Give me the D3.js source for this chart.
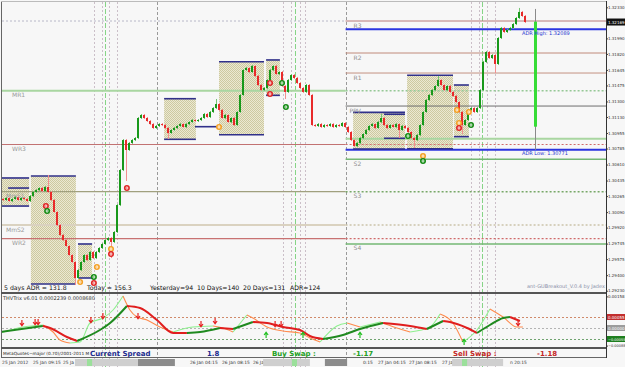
<!DOCTYPE html>
<html>
<head>
<meta charset="utf-8">
<script src="https://cdn.jsdelivr.net/npm/d3@7/dist/d3.min.js"></script>
<style>
  body { margin: 0; background: #f7f7f7; }
  svg { display: block; }
  text { font-family: "DejaVu Sans", sans-serif; }
</style>
</head>
<body>
<div id="chart"></div>
<script>
// ---- values (M15 candles, index = bar number) ----
const firstOpen = 1.30233;
const closes = [
  1.30222, 1.30244, 1.30211, 1.30233, 1.30255, 1.30222, 1.30244, 1.30233, 1.30211, 1.30266,
  1.30310, 1.30331, 1.30353, 1.30320, 1.30364, 1.30310, 1.30222, 1.30091, 1.29948, 1.29839,
  1.29784, 1.29719, 1.29620, 1.29544, 1.29369, 1.29456, 1.29544, 1.29620, 1.29566, 1.29653,
  1.29587, 1.29653, 1.29697, 1.29741, 1.29784, 1.29806, 1.29763, 1.29872, 1.30167, 1.30550,
  1.30878, 1.30769, 1.30846, 1.30878, 1.30900, 1.31119, 1.31152, 1.31119, 1.31086, 1.31053,
  1.31010, 1.31032, 1.31053, 1.31042, 1.31010, 1.30955, 1.30988, 1.31010, 1.31032, 1.31053,
  1.31021, 1.31053, 1.31075, 1.31097, 1.31086, 1.31097, 1.31119, 1.31163, 1.31130, 1.31185,
  1.31228, 1.31272, 1.31207, 1.31119, 1.31152, 1.31075, 1.31119, 1.31042, 1.31185, 1.31371,
  1.31644, 1.31666, 1.31622, 1.31688, 1.31579, 1.31480, 1.31425, 1.31447, 1.31535, 1.31644,
  1.31688, 1.31600, 1.31622, 1.31469, 1.31404, 1.31535, 1.31589, 1.31557, 1.31502, 1.31447,
  1.31404, 1.31480, 1.31371, 1.31042, 1.31032, 1.31053, 1.31021, 1.31042, 1.31032, 1.31053,
  1.31021, 1.31042, 1.31032, 1.31064, 1.31021, 1.30966, 1.30878, 1.30813, 1.30846, 1.30900,
  1.30944, 1.30988, 1.31032, 1.31053, 1.31010, 1.31075, 1.31119, 1.31042, 1.31010, 1.31042,
  1.31021, 1.31053, 1.30988, 1.31032, 1.31010, 1.30966, 1.30900, 1.30878, 1.30933, 1.31042,
  1.31185, 1.31316, 1.31371, 1.31425, 1.31469, 1.31535, 1.31480, 1.31425, 1.31469, 1.31404,
  1.31360, 1.31294, 1.31185, 1.31042, 1.31097, 1.31207, 1.31228, 1.31185, 1.31228, 1.31425,
  1.31732, 1.31841, 1.31775, 1.31808, 1.31710, 1.31994, 1.32104, 1.32060, 1.32082, 1.32104,
  1.32147, 1.32213, 1.32279, 1.32235, 1.32169
];
// long wicks
const spikeIdx = [15, 24, 36, 41, 55, 71, 94, 126, 132, 137, 145, 153, 164, 172];
const spikePrice = [1.30485, 1.29303, 1.29598, 1.30441, 1.30900, 1.31316, 1.31338, 1.31152, 1.30911, 1.30802, 1.31568, 1.30955, 1.31622, 1.32312];

const priceTicks = [1.32330, 1.31990, 1.31820, 1.31645, 1.31475, 1.31300, 1.31130, 1.30955, 1.30785,
  1.30610, 1.30435, 1.30265, 1.30090, 1.29920, 1.29745, 1.29575, 1.29400, 1.29230];

// breakout boxes
const boxStart = [-0.5, 9.3, 25, 53.7, 72, 87.7, 116.7, 134.7, 150.3];
const boxEnd = [8.7, 24.3, 29.7, 64.3, 87, 92.3, 134, 150, 155.3];
const boxTop = [1.30463, 1.30485, 1.29741, 1.31330, 1.31735, 1.31754, 1.31181, 1.31586, 1.31480];
const boxBottom = [1.30156, 1.29303, 1.29369, 1.30886, 1.30936, 1.31367, 1.30780, 1.30783, 1.30915];
const segStart = [1.7, 64, 127, 127];
const segEnd = [8.7, 71.3, 134, 134];
const segPrice = [1.30353, 1.31024, 1.31160, 1.30897];

// pivot levels: previous days (left) and today (right)
const pivotDayIdx = 114.2;
const leftLevelNames = ['', 'MR1', 'WR3', 'MmS1', 'MmS2', 'WR2'];
const leftLevelPrices = [1.32180, 1.31418, 1.30829, 1.30313, 1.29948, 1.29799];
const rightLevelNames = ['R3', 'R2', 'R1', 'MR1', 'PPV', 'S1', 'WR3', 'S2', 'S3', 'MmS2', 'WR2', 'S4'];
const rightLevelPrices = [1.32180, 1.31830, 1.31611, 1.31418, 1.31250, 1.30893, 1.30829, 1.30667, 1.30313, 1.29948, 1.29799, 1.29741];
const adrHigh = 1.32089;
const adrLow = 1.30771;
const adrBarIdx = 177.3;
const todayHigh = 1.32312;
const adrBarTop = 1.32173;
const adrBarBottom = 1.31024;

// signal dots
const dotIdx = [72, 89, 89, 93, 94.3, 135, 151.3, 152, 152, 155.3, 156, 14.3, 14.7, 41.3, 31.3, 30.3, 30.3, 25.7, 36, 36, 140, 140];
const dotPrice = [1.31021, 1.31502, 1.31382, 1.31502, 1.31239, 1.30922, 1.31207, 1.31064, 1.31010, 1.31185, 1.31042,
  1.30156, 1.30102, 1.30353, 1.29489, 1.29380, 1.29314, 1.29325, 1.29686, 1.29631, 1.30703, 1.30649];
const dotKind = ['o', 'r', 'r', 'g', 'g', 'g', 'o', 'o', 'r', 'o', 'g', 'r', 'g', 'r', 'o', 'g', 'r', 'o', 'o', 'r', 'o', 'g'];

// vertical session lines
const vLineIdx = [30.3, 32.9, 34, 35.2, 37.9, 51.2, 93.2, 95.9, 97.3, 99, 100.7, 114.2, 155.9, 158.6, 159.7, 161.2, 164];
const vLineKind = ['dot', 'dot', 'green', 'dot', 'dot', 'day', 'dot', 'dot', 'green', 'dot', 'dot', 'day', 'dot', 'dot', 'green', 'dot', 'dot'];

const adrStats = ['5 days ADR = 131.8', 'Today = 156.3', 'Yesterday=94', '10 Days=140', '20 Days=131', 'ADR=124'];

// THV Trix indicator
const trixIdx = [-1, 13.3, 15.7, 21.3, 24.7, 32.3, 35.7, 41.3, 45.7, 51.3, 56.7, 61.3, 65.7, 72.3, 76.7, 83.3, 88, 93.3, 99, 102.3,
  106.7, 113.3, 119, 126.7, 135.7, 141.3, 146.7, 149, 154.7, 158, 162.3, 166.7, 169, 172.3];
const trixVal = [-0.0002, 0.0001, 0, -0.00045, -0.00065, -0.0001, 0.00025, 0.0011, 0.001, 0.0004, -0.00025, -0.00025, -0.0002, 0, -0.00005,
  0.0003, 0.00025, 0.00005, -0.0001, -0.0004, -0.00055, -0.00035, -0.00005, 0.00025, 0.0001, -0.00005, 0.00035, 0.0003, 0, -0.00025,
  0.00015, 0.0005, 0.00055, 0.00035];
const sigIdx = [-1, 6.7, 13.3, 16.7, 19, 22.3, 25.7, 29, 33.3, 36.7, 40, 42.3, 44.7, 48, 52.3, 56.7, 63.3, 70, 73.3, 76.7, 81.3,
  83.3, 88, 93.3, 99, 102.3, 105.7, 111.3, 114.7, 119, 125.7, 131.3, 135.7, 142.3, 145.7, 150, 153.3, 158, 162.3, 166.7, 171.3, 173.3];
const sigVal = [-0.00025, 0.00005, 0.00015, -0.0002, -0.0006, -0.00075, -0.0007, 0.00025, 0.0005, 0.0009, 0.0016, 0.0009, 0.00055,
  0.0004, 0.00005, -0.0002, 0.00005, 0.0001, 0, -0.0002, 0.00065, 0.0005, 0.00005, -0.00015, -0.00025, -0.0005, -0.0007, 0.0001,
  0.00025, 0.00005, 0.0003, 0, -0.0002, 0.00005, 0.0007, 0.00025, -0.0007, -0.0001, 0.00095, 0.00055, 0.00005, 0.00005];
const downArrows = [[6.3, 0.00025], [10.7, 0.0003], [11.7, 0.0003], [29.3, 0.0004], [33.3, 0.0006], [45, 0.0006], [66, 0.0002],
  [70.7, 0.00035], [90.7, 0.0002], [92.7, 0.0002], [171.7, 0.00025]];
const upArrows = [[87.7, -0.00035], [100, -0.00035], [119, -0.00035], [153.7, -0.0007]];
const indLevels = [0.00055, 0, -0.00055];
const indTicks = [0.00158, -0.00088];

// time axis
const timeLabelIdx = [-0.3, 10, 20, 62.3, 73, 83.3, 120, 125, 135.3, 146.3, 169];
const timeLabels = ['25 Jan 2012', '25 Jan 09:15', '25 Ja', '26 Jan 04:15', '26 Jan 08:15', '26 Ja', '0:15', '27 Jan 04:15', '27 Jan 08:15', '27 Ja', 'n 20:15'];
const tBarStart = [24, 86.7, 149.7, 45, 107.3];
const tBarEnd = [51.3, 102.3, 166.7, 57.3, 114.7];
const tBarKind = ['light', 'light', 'light', 'dark', 'dark'];
const tMarkStart = [28, 96.3, 153];
const tMarkEnd = [29.7, 98, 154.7];

const swapLabels = ['Current Spread', '1.8', 'Buy Swap :', '-1.17', 'Sell Swap :', '-1.18'];

// ---- drawing ----
const W = 625, H = 367;
const plot = { left: 2, right: 606, top: 2, bottom: 292 };
const pane = { top: 294, bottom: 347 };

const svg = d3.select('#chart').append('svg').attr('width', W).attr('height', H);
svg.append('rect').attr('width', W).attr('height', H).attr('fill', '#f7f7f7');

const x = d3.scaleLinear().domain([0, 174]).range([3, 525]);
const y = d3.scaleLinear().domain([1.29230, 1.32330]).range([290.7, 7.3]);
const yi = d3.scaleLinear().domain([-0.0007, 0.00158]).range([342, 296.4]);

const defs = svg.append('defs');
const pat = defs.append('pattern').attr('id', 'boxFill')
  .attr('width', 2).attr('height', 2).attr('patternUnits', 'userSpaceOnUse');
pat.append('rect').attr('width', 2).attr('height', 2).attr('fill', '#ebe8d2');
pat.append('rect').attr('width', 1).attr('height', 1).attr('fill', '#cdc9a0');
pat.append('rect').attr('x', 1).attr('y', 1).attr('width', 1).attr('height', 1).attr('fill', '#cdc9a0');
defs.append('clipPath').attr('id', 'mainClip').append('rect')
  .attr('x', plot.left).attr('y', plot.top).attr('width', plot.right - plot.left).attr('height', plot.bottom - plot.top);
defs.append('clipPath').attr('id', 'indClip').append('rect')
  .attr('x', plot.left).attr('y', pane.top).attr('width', plot.right - plot.left).attr('height', pane.bottom - pane.top);

// the little axis labels have to fit in the 19px gutter
function fitAxisText(sel) {
  sel.attr('font-family', 'Liberation Sans').attr('fill', '#333')
    .attr('font-size', function () { return this.textContent.length > 7 ? 3.5 : 4; });
}

// vertical session lines across every pane
const vStyle = {
  dot: { stroke: '#cbbfc8', dash: '2,2' },
  green: { stroke: '#86d486', dash: '5,2' },
  day: { stroke: '#9a9a9a', dash: '3,2' }
};
svg.append('g').selectAll('line').data(vLineIdx).join('line')
  .attr('x1', d => Math.round(x(d)) + 0.5).attr('x2', d => Math.round(x(d)) + 0.5)
  .attr('y1', plot.top).attr('y2', H)
  .attr('stroke', (d, i) => vStyle[vLineKind[i]].stroke)
  .attr('stroke-dasharray', (d, i) => vStyle[vLineKind[i]].dash);

const main = svg.append('g').attr('clip-path', 'url(#mainClip)');

// boxes
const boxes = boxStart.map((s, i) => ({ s, e: boxEnd[i], top: boxTop[i], bot: boxBottom[i] }));
main.selectAll('.box').data(boxes).join('rect')
  .attr('class', 'box')
  .attr('x', d => x(d.s)).attr('width', d => x(d.e) - x(d.s))
  .attr('y', d => y(d.top)).attr('height', d => y(d.bot) - y(d.top))
  .attr('fill', 'url(#boxFill)');

// pivot lines
const pivotX = x(pivotDayIdx);
const leftStyle = {
  '': { c: '#b8b8c8', w: 1, dash: '2,2' },
  MR1: { c: '#a9d6a1', w: 2, dash: null },
  WR3: { c: '#c27272', w: 1.2, dash: null },
  MmS1: { c: '#a0a07e', w: 1.2, dash: null },
  MmS2: { c: '#dad2c0', w: 2, dash: null },
  WR2: { c: '#c87272', w: 1.2, dash: null }
};
const rightStyle = {
  R3: { c: '#b87a7a', w: 1, dash: null },
  R2: { c: '#c08a7a', w: 1, dash: null },
  R1: { c: '#c49282', w: 1, dash: null },
  MR1: { c: '#96c896', w: 1.5, dash: '2,2' },
  PPV: { c: '#6e6e6e', w: 1, dash: null },
  S1: { c: '#a9d6a1', w: 2, dash: null },
  WR3: { c: '#d06a6a', w: 1.2, dash: '2,2' },
  S2: { c: '#74b874', w: 1.5, dash: null },
  S3: { c: '#78a868', w: 1.5, dash: '2,2' },
  MmS2: { c: '#ccc4aa', w: 1.5, dash: '2,2' },
  WR2: { c: '#d06a6a', w: 1.2, dash: '2,2' },
  S4: { c: '#74b874', w: 1.5, dash: null }
};
main.selectAll('.lvlL').data(leftLevelPrices).join('line')
  .attr('class', 'lvlL')
  .attr('x1', plot.left).attr('x2', pivotX)
  .attr('y1', d => y(d)).attr('y2', d => y(d))
  .attr('stroke', (d, i) => leftStyle[leftLevelNames[i]].c)
  .attr('stroke-width', (d, i) => leftStyle[leftLevelNames[i]].w)
  .attr('stroke-dasharray', (d, i) => leftStyle[leftLevelNames[i]].dash);
main.selectAll('.lvlR').data(rightLevelPrices).join('line')
  .attr('class', 'lvlR')
  .attr('x1', pivotX).attr('x2', plot.right)
  .attr('y1', d => y(d)).attr('y2', d => y(d))
  .attr('stroke', (d, i) => rightStyle[rightLevelNames[i]].c)
  .attr('stroke-width', (d, i) => rightStyle[rightLevelNames[i]].w)
  .attr('stroke-dasharray', (d, i) => rightStyle[rightLevelNames[i]].dash);
main.selectAll('.adr').data([adrHigh, adrLow]).join('line')
  .attr('class', 'adr')
  .attr('x1', pivotX).attr('x2', plot.right)
  .attr('y1', d => y(d)).attr('y2', d => y(d))
  .attr('stroke', '#2b35e0').attr('stroke-width', 2);

// box edges
const edges = boxes.flatMap(b => [{ s: b.s, e: b.e, p: b.top }, { s: b.s, e: b.e, p: b.bot }])
  .concat(segStart.map((s, i) => ({ s, e: segEnd[i], p: segPrice[i] })));
main.selectAll('.edge').data(edges).join('line')
  .attr('class', 'edge')
  .attr('x1', d => x(d.s)).attr('x2', d => x(d.e))
  .attr('y1', d => y(d.p)).attr('y2', d => y(d.p))
  .attr('stroke', '#30308a').attr('stroke-width', 1.6);

// candles
const bars = closes.map((c, i) => {
  const o = i === 0 ? firstOpen : closes[i - 1];
  let hi = Math.max(o, c), lo = Math.min(o, c);
  const k = spikeIdx.indexOf(i);
  if (k >= 0) {
    if (spikePrice[k] > hi) hi = spikePrice[k];
    else lo = Math.min(lo, spikePrice[k]);
  }
  return { i, o, c, hi, lo };
});
main.selectAll('.wick').data(bars).join('line')
  .attr('class', 'wick')
  .attr('x1', d => Math.round(x(d.i)) + 0.5).attr('x2', d => Math.round(x(d.i)) + 0.5)
  .attr('y1', d => y(d.hi) - 1).attr('y2', d => y(d.lo) + 1)
  .attr('stroke', d => d.c >= d.o ? '#74c474' : '#f29090');
main.selectAll('.body').data(bars).join('rect')
  .attr('class', 'body')
  .attr('x', d => Math.round(x(d.i)) - 1).attr('width', 2)
  .attr('y', d => y(Math.max(d.o, d.c)))
  .attr('height', d => Math.max(1, Math.abs(y(d.o) - y(d.c))))
  .attr('fill', d => d.c >= d.o ? '#18981a' : '#e82a2a');

// signal dots (coloured disc with a small white ring inside)
const dotColor = { r: '#e02424', g: '#128a12', o: '#f4a024' };
const dots = main.selectAll('.dot').data(dotIdx.map((d, i) => ({ i: d, p: dotPrice[i], k: dotKind[i] })))
  .join('g').attr('class', 'dot')
  .attr('transform', d => 'translate(' + x(d.i) + ',' + y(d.p) + ')');
dots.append('circle').attr('r', 3).attr('fill', d => dotColor[d.k]);
dots.append('ellipse').attr('rx', 0.9).attr('ry', 1.4).attr('fill', 'none')
  .attr('stroke', 'white').attr('stroke-width', 0.8);

// ADR range marker
const ax = Math.round(x(adrBarIdx)) + 0.5;
main.append('line').attr('x1', ax).attr('x2', ax).attr('y1', y(todayHigh)).attr('y2', y(adrLow))
  .attr('stroke', '#8a8a8a');
main.append('line').attr('x1', ax).attr('x2', ax).attr('y1', y(adrBarTop)).attr('y2', y(adrBarBottom))
  .attr('stroke', '#36dc36').attr('stroke-width', 3);

// level labels
const lblL = [null, [12, 'MR1'], [12, 'WR3'], [6, 'MmS1'], [6, 'MmS2'], [12, 'WR2']];
main.selectAll('.lblL').data(leftLevelPrices).join('text')
  .attr('class', 'lblL')
  .attr('x', (d, i) => lblL[i] ? lblL[i][0] : 0).attr('y', d => y(d) + 6.5)
  .attr('font-size', 6).attr('fill', '#9a9a9a')
  .text((d, i) => leftLevelNames[i]);
const showRight = ['R3', 'R2', 'R1', 'PPV', 'S2', 'S3', 'S4'];
main.selectAll('.lblR').data(rightLevelPrices).join('text')
  .attr('class', 'lblR')
  .attr('x', (d, i) => pivotX + (rightLevelNames[i] === 'PPV' ? 4 : 8)).attr('y', d => y(d) + 6.5)
  .attr('font-size', 6).attr('fill', '#8e8e8e')
  .text((d, i) => showRight.includes(rightLevelNames[i]) ? rightLevelNames[i] : '');
main.selectAll('.adrLbl').data([adrHigh, adrLow]).join('text')
  .attr('class', 'adrLbl')
  .attr('x', 522).attr('y', d => y(d) + 5.5)
  .attr('font-size', 5).attr('fill', '#2432d0')
  .text((d, i) => (i === 0 ? 'ADR High: ' : 'ADR Low: ') + d3.format('.5f')(d));

const statX = [4, 87, 150, 197, 243, 290];
main.selectAll('.stat').data(adrStats).join('text')
  .attr('class', 'stat')
  .attr('x', (d, i) => statX[i]).attr('y', 289.5)
  .attr('font-family', 'DejaVu Sans Mono').attr('font-size', 6.2).attr('fill', '#111')
  .style('white-space', 'pre')
  .text(d => d);
main.append('text').attr('x', 527).attr('y', 288).attr('font-size', 5).attr('fill', '#8a90a8')
  .text('ant-GUBreakout_V.0.4 by Jadex');

// price axis
svg.append('g').attr('transform', 'translate(' + plot.right + ',0)')
  .call(d3.axisRight(y).tickValues(priceTicks).tickSize(2).tickPadding(0).tickFormat(d3.format('.5f')))
  .call(g => g.select('.domain').remove())
  .call(g => g.selectAll('line').attr('stroke', '#444'))
  .call(g => fitAxisText(g.selectAll('text')));
const lastClose = closes[closes.length - 1];
svg.append('rect').attr('x', 607).attr('y', y(lastClose) - 3.5).attr('width', 18).attr('height', 7).attr('fill', '#111');
svg.append('text').attr('x', 608).attr('y', y(lastClose) + 1.5)
  .text(d3.format('.5f')(lastClose))
  .call(fitAxisText).attr('fill', 'white');

// ---- indicator pane ----
const indG = svg.append('g').attr('clip-path', 'url(#indClip)');
const lvlCol = ['#d08a6a', '#b4b4b4', '#70a470'];
indG.selectAll('.il').data(indLevels).join('line')
  .attr('class', 'il')
  .attr('x1', plot.left).attr('x2', plot.right)
  .attr('y1', d => Math.round(yi(d)) + 0.5).attr('y2', d => Math.round(yi(d)) + 0.5)
  .attr('stroke', (d, i) => lvlCol[i]).attr('stroke-dasharray', '2,2');

// split a line into rising / falling runs so each gets its colour
function runs(xs, vs) {
  const out = [];
  let dir = Math.sign(vs[1] - vs[0]);
  let cur = [[xs[0], vs[0]]];
  for (let k = 1; k < xs.length; k++) {
    const d = Math.sign(vs[k] - vs[k - 1]) || dir;
    if (d !== dir) {
      out.push({ dir, pts: cur });
      cur = [[xs[k - 1], vs[k - 1]]];
      dir = d;
    }
    cur.push([xs[k], vs[k]]);
  }
  out.push({ dir, pts: cur });
  return out;
}
const lineGen = d3.line().x(d => x(d[0])).y(d => yi(d[1])).curve(d3.curveMonotoneX);
indG.selectAll('.sig').data(runs(sigIdx, sigVal)).join('path')
  .attr('class', 'sig')
  .attr('d', d => lineGen(d.pts)).attr('fill', 'none')
  .attr('stroke', d => d.dir > 0 ? '#8ef08e' : '#ff8a4c').attr('stroke-width', 1.1);
indG.selectAll('.trix').data(runs(trixIdx, trixVal)).join('path')
  .attr('class', 'trix')
  .attr('d', d => lineGen(d.pts)).attr('fill', 'none')
  .attr('stroke', d => d.dir > 0 ? '#1f8a1f' : '#e01e1e').attr('stroke-width', 2);
indG.selectAll('.dn').data(downArrows).join('path')
  .attr('class', 'dn')
  .attr('transform', d => 'translate(' + x(d[0]) + ',' + yi(d[1]) + ')')
  .attr('d', 'M0,-3V2M-2,0L0,2.8L2,0').attr('fill', 'none')
  .attr('stroke', '#e42020').attr('stroke-width', 1.2);
indG.selectAll('.up').data(upArrows).join('path')
  .attr('class', 'up')
  .attr('transform', d => 'translate(' + x(d[0]) + ',' + yi(d[1]) + ')')
  .attr('d', 'M0,3V-2M-2,0L0,-2.8L2,0').attr('fill', 'none')
  .attr('stroke', '#22c022').attr('stroke-width', 1.2);
svg.append('text').attr('x', 3).attr('y', 300).attr('font-size', 5).attr('fill', '#333')
  .text('THVTrix v6.01 0.0002239 0.0008680');

svg.append('g').attr('transform', 'translate(' + plot.right + ',0)')
  .call(d3.axisRight(yi).tickValues(indTicks).tickSize(2).tickPadding(0).tickFormat(d3.format('.5f')))
  .call(g => g.select('.domain').remove())
  .call(g => g.selectAll('line').attr('stroke', '#444'))
  .call(g => fitAxisText(g.selectAll('text')));
const boxCol = ['#c22e2e', '#9c9c9c', '#1e7e1e'];
svg.selectAll('.ib').data(indLevels).join('rect')
  .attr('class', 'ib')
  .attr('x', 607).attr('y', d => yi(d) - 3).attr('width', 18).attr('height', 6)
  .attr('fill', (d, i) => boxCol[i]);
svg.selectAll('.ibt').data(indLevels).join('text')
  .attr('class', 'ibt')
  .attr('x', 608).attr('y', d => yi(d) + 1.5)
  .text(d => d3.format('.5f')(d))
  .call(fitAxisText).attr('fill', 'white');

// ---- frames ----
svg.append('line').attr('x1', 1.5).attr('x2', 1.5).attr('y1', 1).attr('y2', 357).attr('stroke', '#666');
svg.append('line').attr('x1', 1).attr('x2', plot.right).attr('y1', 1.5).attr('y2', 1.5).attr('stroke', '#bbb');
svg.append('line').attr('x1', 1).attr('x2', plot.right).attr('y1', 293).attr('y2', 293).attr('stroke', '#555').attr('stroke-width', 2);
svg.append('line').attr('x1', 1).attr('x2', plot.right).attr('y1', 348).attr('y2', 348).attr('stroke', '#555').attr('stroke-width', 2);
svg.append('line').attr('x1', 1).attr('x2', plot.right).attr('y1', 357.5).attr('y2', 357.5).attr('stroke', '#666');
svg.append('line').attr('x1', plot.right + 0.5).attr('x2', plot.right + 0.5).attr('y1', 1).attr('y2', 358).attr('stroke', '#333');

// spread / swap strip
const swapX = [90, 207, 272, 353, 453, 537];
const swapCol = ['#1c2a8e', '#1c2a8e', '#23a023', '#23a023', '#c42626', '#c42626'];
svg.append('text').attr('x', 3).attr('y', 355).attr('font-size', 4.3).attr('fill', '#222')
  .text('MetaQuotes~major (0.70)/2001-2011 M');
svg.selectAll('.swap').data(swapLabels).join('text')
  .attr('class', 'swap')
  .attr('x', (d, i) => swapX[i]).attr('y', 355.5)
  .attr('font-family', 'Liberation Sans').attr('font-weight', 'bold').attr('font-size', 7)
  .attr('fill', (d, i) => swapCol[i])
  .text(d => d);

// time axis
const tBars = tBarStart.map((s, i) => ({ s, e: tBarEnd[i], k: tBarKind[i] }));
svg.selectAll('.tl').data(timeLabels).join('text')
  .attr('class', 'tl')
  .attr('x', (d, i) => x(timeLabelIdx[i])).attr('y', 364)
  .attr('font-family', 'Liberation Sans').attr('font-size', 4.4).attr('fill', '#333')
  .text(d => d);
svg.selectAll('.tb').data(tBars).join('rect')
  .attr('class', 'tb')
  .attr('x', d => x(d.s)).attr('width', d => x(d.e) - x(d.s))
  .attr('y', 359).attr('height', 7)
  .attr('fill', d => d.k === 'light' ? '#cfcfcf' : '#8c8c8c');
svg.selectAll('.tm').data(tMarkStart).join('rect')
  .attr('class', 'tm')
  .attr('x', d => x(d)).attr('width', (d, i) => x(tMarkEnd[i]) - x(d))
  .attr('y', 359).attr('height', 7).attr('fill', '#9be09b');
</script>
</body>
</html>
